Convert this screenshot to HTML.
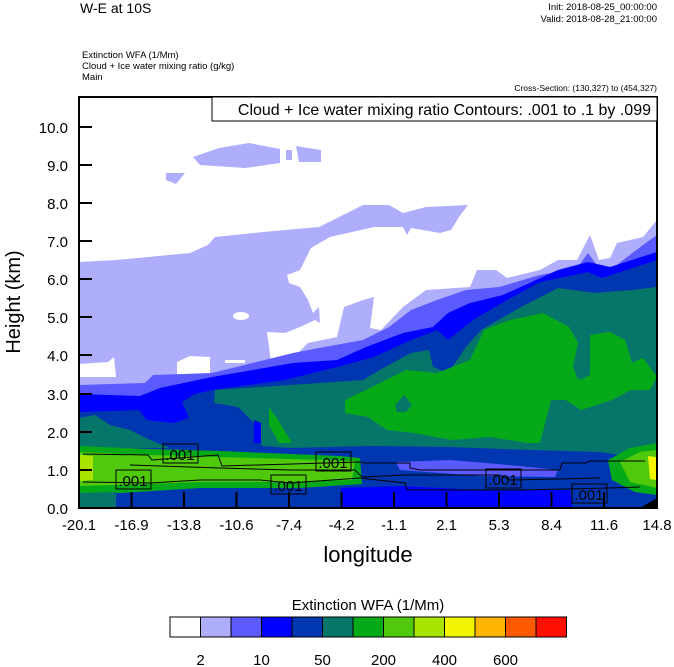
<!DOCTYPE html>
<html><head><style>
body{margin:0;background:#fff;}
svg text{font-family:"Liberation Sans",sans-serif;}
</style></head><body>
<svg width="674" height="667" viewBox="0 0 674 667" xmlns="http://www.w3.org/2000/svg" style="position:absolute;left:0;top:0">
<text x="80" y="13" font-size="14">W-E at 10S</text>
<text x="657" y="10" font-size="9.5" text-anchor="end">Init: 2018-08-25_00:00:00</text>
<text x="657" y="22" font-size="9.5" text-anchor="end">Valid: 2018-08-28_21:00:00</text>
<text x="82" y="58" font-size="9.5">Extinction WFA   (1/Mm)</text>
<text x="82" y="69" font-size="9.5">Cloud + Ice water mixing ratio   (g/kg)</text>
<text x="82" y="80" font-size="9.5">Main</text>
<text x="657" y="91" font-size="8.5" text-anchor="end">Cross-Section: (130,327) to (454,327)</text>

<svg x="79" y="97" width="578" height="411" viewBox="79 97 578 411" preserveAspectRatio="none">
<rect x="79" y="97" width="578" height="411" fill="#fff"/>
<g fill="#aeaefc" fill-rule="evenodd">
<path d="M79,262 L116,260 L190,253 L208,245 L215,237 L263,232 L319,227 L333,220 L363,205 L389,205 L403,213 L426,207 L468,205 L459,217 L451,230 L440,233 L411,228 L407,235 L403,227 L374,227 L330,237 L311,248 L300,270 L287,275 L289,283 L300,287 L308,300 L313,313 L319,307 L320,323 L315,320 L300,327 L285,333 L267,332 L271,362 L289,362 L308,343 L337,337 L344,307 L363,300 L374,297 L370,328 L381,330 L403,307 L426,290 L470,287 L477,270 L496,270 L507,278 L540,270 L558,260 L577,260 L590,235 L599,260 L610,258 L617,243 L643,237 L657,220 L657,508 L79,508 Z"/>
<path d="M193,157 L219,148 L249,143 L280,149 L280,163 L245,168 L200,165 Z"/>
<path d="M286,150 L292,150 L292,160 L286,160 Z"/>
<path d="M296,146 L321,150 L321,162 L299,162 Z"/>
<path d="M166,173 L185,173 L176,184 L166,180 Z"/>
</g>
<g fill="#fff">
<path d="M330,297 L341,298 L338,310 L333,308 Z"/>
<ellipse cx="241" cy="316" rx="8" ry="4"/>
<path d="M177,362 L190,356 L210,357 L210,377 L177,377 Z"/>
<path d="M79,364 L108,362 L114,357 L116,377 L79,377 Z"/>
<path d="M225,360 L245,360 L245,363 L225,363 Z"/>
</g>
<path fill="#5a5aff" d="M79,385 L145,383 L153,375 L212,373 L293,353 L319,348 L363,340 L389,327 L411,310 L437,300 L466,290 L499,287 L540,275 L577,268 L588,253 L599,268 L614,267 L643,245 L657,235 L657,508 L79,508 Z"/>
<path fill="#0000ff" d="M79,394 L140,396 L160,388 L212,377 L293,363 L337,360 L366,347 L403,333 L433,327 L448,313 L470,303 L503,295 L558,270 L588,262 L610,267 L657,252 L657,508 L79,508 Z"/>
<path fill="#0036b0" d="M79,412 L139,410 L147,420 L173,423 L189,418 L182,402 L195,394 L212,390 L285,380 L337,367 L374,357 L411,340 L437,330 L448,340 L473,320 L507,300 L540,282 L588,272 L602,278 L657,260 L657,508 L79,508 Z"/>
<path fill="#06766a" d="M215,390 L260,387 L320,383 L363,380 L385,367 L411,353 L429,350 L433,367 L448,373 L466,347 L481,330 L521,307 L558,288 L595,293 L632,290 L657,287 L657,455 L620,455 L600,452 L530,450 L450,447 L370,446 L290,448 L262,446 L261,443 L254,423 L238,407 L214,403 Z"/>
<path fill="#06766a" d="M79,418 L95,415 L110,425 L130,430 L150,440 L170,448 L79,448 Z"/>
<path fill="#06aa18" d="M345,400 L372,387 L406,370 L437,373 L470,360 L484,330 L510,320 L543,313 L569,327 L578,343 L573,367 L578,380 L590,360 L590,335 L610,332 L625,340 L632,363 L643,358 L657,377 L650,390 L631,390 L612,400 L581,410 L566,400 L551,400 L540,443 L528,443 L490,437 L452,440 L414,433 L387,430 L368,417 L345,413 Z"/>
<path fill="#06766a" d="M578,343 L590,340 L590,375 L580,380 Z"/>
<path fill="#06766a" d="M395,405 L404,395 L412,405 L406,412 L397,412 Z"/>
<path fill="#06aa18" d="M269,407 L278,420 L292,443 L279,443 L269,425 Z"/>
<path fill="#0000ff" d="M254,420 L261,423 L261,443 L254,443 Z"/>
<!-- lower -->
<path fill="#5a5aff" d="M396,462 L450,460 L520,466 L558,470 L555,477 L480,476 L400,470 Z"/>
<path fill="#0000ff" d="M341,488 L400,486 L480,490 L570,490 L572,508 L341,508 Z"/>
<path fill="#06aa18" d="M79,446 L150,449 L220,451 L290,454 L340,456 L360,458 L362,484 L300,488 L200,488 L120,493 L79,493 Z"/>
<path fill="#50c80c" d="M79,452 L150,455 L220,457 L290,459 L355,461 L352,480 L280,482 L200,482 L120,485 L79,486 Z"/>
<path fill="#a8e400" d="M79,455 L93,456 L93,480 L79,481 Z"/>
<path fill="#06766a" d="M79,493 L116,492 L116,508 L79,508 Z"/>
<path fill="#06aa18" d="M608,460 L630,448 L657,443 L657,495 L635,492 L612,480 Z"/>
<path fill="#50c80c" d="M620,462 L640,452 L657,450 L657,488 L630,482 Z"/>
<path fill="#f2f400" d="M648,456 L656,457 L656,480 L650,479 Z"/>
<path fill="#000" d="M640,508 L657,498 L657,508 Z"/>
<g fill="none" stroke="#000" stroke-width="1">
<path d="M83,454 L148,455 L152,460 L218,455 L222,466 L360,462 L365,463 L410,463 L410,468 L420,470 L560,470 L562,463 L585,463 L590,461 L645,461"/>
<path d="M83,482 L150,483 L200,480 L260,480 L290,483 L360,478 L405,483 L407,490 L520,490 L610,488 L640,487"/>
<path d="M130,465 L220,468 L290,470 L355,470 L362,477 L405,475 L500,475 L510,480 L600,478"/>
</g>
</svg>
<rect x="79" y="97" width="578" height="411" fill="none" stroke="#000" stroke-width="2"/>
<rect x="212" y="97" width="445" height="24" fill="#fff" stroke="#000" stroke-width="1"/>
<text x="651" y="115" font-size="16" text-anchor="end">Cloud + Ice water mixing ratio Contours: .001 to .1 by .099</text>

<g fill="none" stroke="#000" stroke-width="1">
<rect x="163" y="444" width="35" height="19"/>
<rect x="116" y="470" width="35" height="19"/>
<rect x="271" y="475" width="35" height="19"/>
<rect x="316" y="452" width="35" height="19" />
<rect x="486" y="469" width="35" height="19"/>
<rect x="572" y="484" width="35" height="19"/>
</g>
<g font-size="15" text-anchor="middle">
<text x="180" y="460">.001</text>
<text x="133" y="486">.001</text>
<text x="288" y="491">.001</text>
<text x="333" y="468">.001</text>
<text x="503" y="485">.001</text>
<text x="589" y="500">.001</text>
</g>

<g stroke="#000" stroke-width="2">
<line x1="79" y1="470" x2="92" y2="470"/><line x1="79" y1="432" x2="92" y2="432"/><line x1="79" y1="394" x2="92" y2="394"/><line x1="79" y1="355" x2="92" y2="355"/><line x1="79" y1="317" x2="92" y2="317"/><line x1="79" y1="279" x2="92" y2="279"/><line x1="79" y1="241" x2="92" y2="241"/><line x1="79" y1="203" x2="92" y2="203"/><line x1="79" y1="165" x2="92" y2="165"/><line x1="79" y1="127" x2="92" y2="127"/>
<line x1="131.5" y1="508" x2="131.5" y2="492"/><line x1="184" y1="508" x2="184" y2="492"/><line x1="236.5" y1="508" x2="236.5" y2="492"/><line x1="289" y1="508" x2="289" y2="492"/><line x1="341.5" y1="508" x2="341.5" y2="492"/><line x1="394" y1="508" x2="394" y2="492"/><line x1="446.5" y1="508" x2="446.5" y2="492"/><line x1="499" y1="508" x2="499" y2="492"/><line x1="551.5" y1="508" x2="551.5" y2="492"/><line x1="604" y1="508" x2="604" y2="492"/>
</g>
<g font-size="15" text-anchor="end">
<text x="68" y="514">0.0</text><text x="68" y="476">1.0</text><text x="68" y="438">2.0</text><text x="68" y="400">3.0</text><text x="68" y="361">4.0</text><text x="68" y="323">5.0</text><text x="68" y="285">6.0</text><text x="68" y="247">7.0</text><text x="68" y="209">8.0</text><text x="68" y="171">9.0</text><text x="68" y="133">10.0</text>
</g>
<g font-size="15" text-anchor="middle">
<text x="79" y="530">-20.1</text><text x="131.5" y="530">-16.9</text><text x="184" y="530">-13.8</text><text x="236.5" y="530">-10.6</text><text x="289" y="530">-7.4</text><text x="341.5" y="530">-4.2</text><text x="394" y="530">-1.1</text><text x="446.5" y="530">2.1</text><text x="499" y="530">5.3</text><text x="551.5" y="530">8.4</text><text x="604" y="530">11.6</text><text x="657" y="530">14.8</text>
</g>
<text x="368" y="562" font-size="22" text-anchor="middle">longitude</text>
<text transform="translate(20,302) rotate(-90)" font-size="20" text-anchor="middle">Height (km)</text>

<text x="368" y="610" font-size="15" text-anchor="middle">Extinction WFA  (1/Mm)</text>
<g stroke="#000" stroke-width="1">
<rect x="170" y="617" width="30.5" height="20" fill="#fff"/>
<rect x="200.5" y="617" width="30.5" height="20" fill="#aeaefc"/>
<rect x="231" y="617" width="30.5" height="20" fill="#5a5aff"/>
<rect x="261.5" y="617" width="30.5" height="20" fill="#0000ff"/>
<rect x="292" y="617" width="30.5" height="20" fill="#0036b0"/>
<rect x="322.5" y="617" width="30.5" height="20" fill="#06766a"/>
<rect x="353" y="617" width="30.5" height="20" fill="#06aa18"/>
<rect x="383.5" y="617" width="30.5" height="20" fill="#50c80c"/>
<rect x="414" y="617" width="30.5" height="20" fill="#a8e400"/>
<rect x="444.5" y="617" width="30.5" height="20" fill="#f2f400"/>
<rect x="475" y="617" width="30.5" height="20" fill="#ffb400"/>
<rect x="505.5" y="617" width="30.5" height="20" fill="#ff5a00"/>
<rect x="536" y="617" width="30.5" height="20" fill="#ff1000"/>
</g>
<g font-size="15" text-anchor="middle">
<text x="200.5" y="665">2</text><text x="261.5" y="665">10</text><text x="322.5" y="665">50</text><text x="383.5" y="665">200</text><text x="444.5" y="665">400</text><text x="505.5" y="665">600</text>
</g>
</svg>
</body></html>
